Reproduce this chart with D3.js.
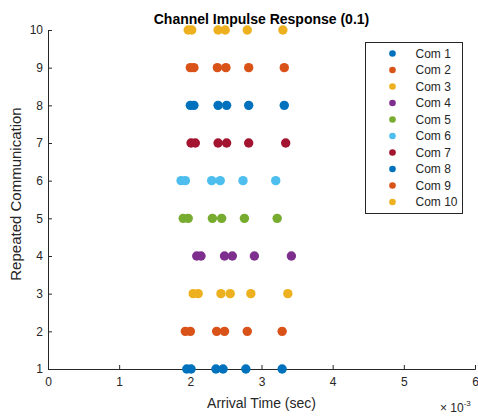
<html>
<head>
<style>
  body { margin: 0; background: #fff; }
  text { font-family: "Liberation Sans", Arial, sans-serif; }
</style>
</head>
<body>
<svg width="478" height="417"></svg>
<script src="https://d3js.org/d3.v7.min.js"></script>
<script>
// arrival times (x 1e-3 sec) per repeated communication
var comms = [1, 2, 3, 4, 5, 6, 7, 8, 9, 10]
var arrivals = [
  [1.95, 2.01, 2.36, 2.46, 2.78, 3.29],
  [1.93, 2.00, 2.37, 2.48, 2.80, 3.29],
  [2.04, 2.11, 2.43, 2.56, 2.85, 3.37],
  [2.09, 2.15, 2.48, 2.59, 2.90, 3.42],
  [1.90, 1.97, 2.31, 2.44, 2.76, 3.22],
  [1.87, 1.93, 2.30, 2.42, 2.74, 3.20],
  [2.01, 2.07, 2.39, 2.51, 2.82, 3.34],
  [2.00, 2.05, 2.39, 2.51, 2.82, 3.32],
  [2.00, 2.05, 2.38, 2.50, 2.82, 3.32],
  [1.97, 2.02, 2.39, 2.49, 2.80, 3.30]
]
var labels = comms.map(function(c){ return "Com " + c })
var xTicks = [0, 1, 2, 3, 4, 5, 6]
var yTicks = [1, 2, 3, 4, 5, 6, 7, 8, 9, 10]
var colors = ["#0072BD","#D95319","#EDB120","#7E2F8E","#77AC30","#4DBEEE","#A2142F"]

var svg = d3.select("svg"),
	pLeft = 48, pRight = 475, pTop = 30, pBottom = 369

var x = d3.scaleLinear().domain([0, 6]).range([pLeft, pRight])
var y = d3.scaleLinear().domain([1, 10]).range([pBottom, pTop])
var col = function(i){ return colors[i % colors.length] }
var axisCol = "#262626"

// axes (MATLAB style: ticks inward, no box)
var gx = svg.append("g").attr("transform", "translate(0," + pBottom + ")")
	.call(d3.axisBottom(x).tickValues(xTicks).tickSize(-4).tickPadding(8).tickFormat(d3.format("d")))
var gy = svg.append("g").attr("transform", "translate(" + pLeft + ",0)")
	.call(d3.axisLeft(y).tickValues(yTicks).tickSize(-4).tickPadding(5).tickFormat(d3.format("d")))
;[gx, gy].forEach(function(g){
	g.select(".domain").attr("stroke", axisCol).attr("stroke-width", 1)
	g.selectAll(".tick line").attr("stroke", axisCol)
	g.selectAll(".tick text").attr("fill", axisCol).style("font-size", "12px")
		.style("font-family", '"Liberation Sans", Arial, sans-serif')
})

// points
comms.forEach(function(c, i){
	svg.append("g").selectAll("circle")
		.data(arrivals[i])
		.enter().append("circle")
		.attr("cx", function(d){ return x(d) })
		.attr("cy", y(c))
		.attr("r", 4.7)
		.style("fill", col(i))
})

// title and labels
svg.append("text").attr("x", (pLeft + pRight) / 2).attr("y", 24)
	.attr("text-anchor", "middle").style("font-size", "14px").style("font-weight", "bold")
	.attr("fill", "#000").text("Channel Impulse Response (0.1)")
svg.append("text").attr("x", (pLeft + pRight) / 2).attr("y", 408)
	.attr("text-anchor", "middle").style("font-size", "14px").attr("fill", axisCol)
	.text("Arrival Time (sec)")
svg.append("text").attr("transform", "translate(21,194) rotate(-90)")
	.attr("text-anchor", "middle").style("font-size", "15px").attr("fill", axisCol)
	.text("Repeated Communication")
var ex = svg.append("text").attr("x", 440).attr("y", 412).style("font-size", "12px").attr("fill", axisCol)
ex.append("tspan").text("\u00d7 10")
ex.append("tspan").attr("dy", -6).style("font-size", "8px").text("-3")

// legend
var lg = svg.append("g")
lg.append("rect").attr("x", 365.5).attr("y", 42.5).attr("width", 97).attr("height", 171)
	.style("fill", "#fff").style("stroke", axisCol).style("stroke-width", 1)
labels.forEach(function(l, i){
	var ly = 53.5 + i * 16.5
	lg.append("circle").attr("cx", 392.5).attr("cy", ly).attr("r", 3.3).style("fill", col(i))
	lg.append("text").attr("x", 415.5).attr("y", ly + 4).style("font-size", "12px")
		.attr("fill", axisCol).text(l)
})
</script>
</body>
</html>
